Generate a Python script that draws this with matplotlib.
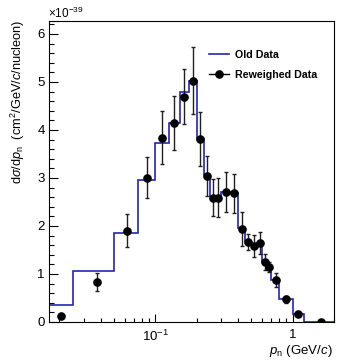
import numpy as np
import matplotlib
matplotlib.use("Agg")
import matplotlib.pyplot as plt
from matplotlib.lines import Line2D
from matplotlib.ticker import FixedLocator, FixedFormatter, LogLocator, NullFormatter, MultipleLocator

plt.rcParams['font.family'] = ['Liberation Sans', 'DejaVu Sans']
plt.rcParams['mathtext.fontset'] = 'custom'
plt.rcParams['mathtext.rm'] = 'Liberation Sans'
plt.rcParams['mathtext.it'] = 'Liberation Sans:italic'
plt.rcParams['mathtext.bf'] = 'Liberation Sans:bold'

# ---- data (units of 1e-39 cm^2/GeV/c/nucleon) ----
bin_edges = [0.0168, 0.025, 0.05, 0.075, 0.1, 0.125, 0.15, 0.175, 0.2, 0.225, 0.25,
             0.275, 0.3, 0.35, 0.4, 0.45, 0.5, 0.55, 0.6, 0.65, 0.7, 0.8, 1.0, 1.2, 2.0]
old_values = [0.35, 1.06, 1.85, 2.95, 3.72, 4.15, 4.80, 5.03, 3.82, 3.06, 2.63,
              2.63, 2.70, 2.68, 1.95, 1.68, 1.62, 1.64, 1.25, 1.15, 0.88, 0.47, 0.17, 0.0]
rew_x = [0.0206, 0.0375, 0.0625, 0.0875, 0.1125, 0.1375, 0.1625, 0.1875, 0.2125, 0.2375,
         0.2625, 0.2875, 0.325, 0.375, 0.425, 0.475, 0.525, 0.575, 0.625, 0.675,
         0.75, 0.9, 1.1, 1.6]
rew_y = [0.13, 0.83, 1.90, 3.01, 3.84, 4.15, 4.69, 5.03, 3.81, 3.04, 2.59,
         2.59, 2.71, 2.68, 1.94, 1.67, 1.59, 1.64, 1.25, 1.15, 0.875, 0.47, 0.17, 0.0]
rew_err = [0.03, 0.19, 0.34, 0.43, 0.55, 0.56, 0.57, 0.70, 0.57, 0.41, 0.39,
           0.40, 0.41, 0.40, 0.36, 0.17, 0.23, 0.23, 0.17, 0.11, 0.14, 0.07, 0.04, 0.0]
x_ticks = [0.1, 1.0]
x_ticklabels = [r'$10^{-1}$', '1']

W, H = 337, 362
fig = plt.figure(figsize=(W / 100, H / 100), dpi=100)
ax = fig.add_axes([49 / W, (H - 322) / H, (334 - 49) / W, (322 - 21) / H])

ax.stairs(old_values, bin_edges, color='#2424b8', linewidth=1.2, label='Old Data')
ax.errorbar(rew_x, rew_y, yerr=rew_err, fmt='o', color='black', markersize=5.2,
            elinewidth=1.0, capsize=1.5, capthick=1.0, ecolor='#202020')

ax.set_xscale('log')
ax.set_xlim(0.0168, 2.0)
ax.set_ylim(0, 6.27)

ax.xaxis.set_major_locator(FixedLocator(x_ticks))
ax.xaxis.set_major_formatter(FixedFormatter(x_ticklabels))
ax.xaxis.set_minor_locator(LogLocator(base=10, subs=np.arange(2, 10), numticks=20))
ax.xaxis.set_minor_formatter(NullFormatter())
ax.yaxis.set_major_locator(MultipleLocator(1))
ax.yaxis.set_minor_locator(MultipleLocator(0.2))

ax.tick_params(axis='both', which='both', direction='in', top=False, right=False)
ax.tick_params(axis='y', which='major', length=6.5, width=0.8, labelsize=9.5, pad=3)
ax.tick_params(axis='y', which='minor', length=3.5, width=0.8)
ax.tick_params(axis='x', which='major', length=6, width=0.8, labelsize=9.5, pad=5)
ax.tick_params(axis='x', which='minor', length=3, width=0.8)
for s in ax.spines.values():
    s.set_linewidth(0.8)

handles = [Line2D([], [], color='#2424b8', linewidth=1.2),
           Line2D([], [], color='black', marker='o', markersize=5.2, linewidth=1.0)]
ax.legend(handles, ['Old Data', 'Reweighed Data'], loc='upper left',
          bbox_to_anchor=(0.561, 0.904), frameon=False, borderpad=0, borderaxespad=0,
          handlelength=1.9, handletextpad=0.5, labelspacing=0.9,
          prop={'weight': 'bold', 'size': 7.7})

fig.text(18 / W, 1 - 20 / H, r'd$\sigma$/d$p_{\rm n}$  (cm$^{2}$/GeV/$c$/nucleon)',
         rotation=90, ha='center', va='top', fontsize=9.2)
fig.text(333 / W, 1 - 351 / H, r'$p_{\rm n}$ (GeV/$c$)', ha='right', va='center', fontsize=9.5)
fig.text(48 / W, 1 - 13 / H, r'$\times10^{-39}$', ha='left', va='center', fontsize=8.5)

fig.savefig('out.png', dpi=100)
